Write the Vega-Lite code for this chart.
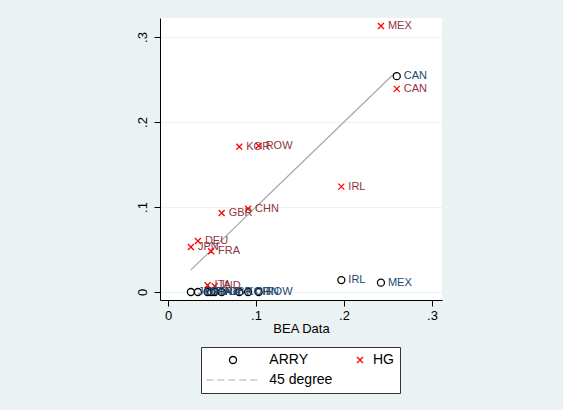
{
  "$schema": "https://vega.github.io/schema/vega-lite/v6.json",
  "width": 282,
  "height": 282,
  "autosize": {"type": "none"},
  "padding": {"left": 160, "top": 18, "right": 121, "bottom": 110},
  "background": "#EAF2F3",
  "config": {
    "view": {"fill": "white", "stroke": null},
    "font": "Liberation Sans"
  },
  "data": {
    "values": [
      {"country": "MEX", "series": "HG", "bea": 0.242, "value": 0.313},
      {"country": "CAN", "series": "HG", "bea": 0.260, "value": 0.239},
      {"country": "KOR", "series": "HG", "bea": 0.081, "value": 0.171},
      {"country": "ROW", "series": "HG", "bea": 0.103, "value": 0.172},
      {"country": "IRL", "series": "HG", "bea": 0.197, "value": 0.124},
      {"country": "CHN", "series": "HG", "bea": 0.091, "value": 0.098},
      {"country": "GBR", "series": "HG", "bea": 0.061, "value": 0.093},
      {"country": "DEU", "series": "HG", "bea": 0.034, "value": 0.060},
      {"country": "JPN", "series": "HG", "bea": 0.026, "value": 0.053},
      {"country": "FRA", "series": "HG", "bea": 0.049, "value": 0.048},
      {"country": "ITA", "series": "HG", "bea": 0.045, "value": 0.008},
      {"country": "IND", "series": "HG", "bea": 0.053, "value": 0.007},
      {"country": "CAN", "series": "ARRY", "bea": 0.260, "value": 0.254},
      {"country": "IRL", "series": "ARRY", "bea": 0.197, "value": 0.014},
      {"country": "MEX", "series": "ARRY", "bea": 0.242, "value": 0.011},
      {"country": "JPN", "series": "ARRY", "bea": 0.026, "value": 0.0},
      {"country": "DEU", "series": "ARRY", "bea": 0.034, "value": 0.0},
      {"country": "ITA", "series": "ARRY", "bea": 0.045, "value": 0.0},
      {"country": "FRA", "series": "ARRY", "bea": 0.049, "value": 0.0},
      {"country": "IND", "series": "ARRY", "bea": 0.053, "value": 0.0},
      {"country": "GBR", "series": "ARRY", "bea": 0.061, "value": 0.0},
      {"country": "KOR", "series": "ARRY", "bea": 0.081, "value": 0.0},
      {"country": "CHN", "series": "ARRY", "bea": 0.091, "value": 0.0},
      {"country": "ROW", "series": "ARRY", "bea": 0.103, "value": 0.0},
      {"country": "", "series": "45 degree", "bea": 0.026, "value": 0.026},
      {"country": "", "series": "45 degree", "bea": 0.258, "value": 0.258}
    ]
  },
  "layer": [
    {
      "transform": [{"filter": "datum.series === '45 degree'"}],
      "mark": {"type": "line", "color": "#a6a6a6", "strokeWidth": 1.2},
      "encoding": {
        "x": {
          "field": "bea", "type": "quantitative",
          "scale": {"domain": [-0.0091, 0.3114], "nice": false, "zero": false},
          "axis": {
            "values": [0, 0.1, 0.2, 0.3],
            "labelExpr": "datum.value === 0 ? '0' : substring(format(datum.value, '.1f'), 1)",
            "grid": false,
            "domainColor": "black",
            "tickColor": "black",
            "tickSize": 6,
            "labelFontSize": 13,
            "labelColor": "black",
            "labelPadding": 3,
            "title": "BEA Data",
            "titleFontSize": 13,
            "titleFontWeight": "normal",
            "titleColor": "black",
            "titlePadding": 0
          }
        },
        "y": {
          "field": "value", "type": "quantitative",
          "scale": {"domain": [-0.0094, 0.3224], "nice": false, "zero": false},
          "axis": {
            "values": [0, 0.1, 0.2, 0.3],
            "labelExpr": "datum.value === 0 ? '0' : substring(format(datum.value, '.1f'), 1)",
            "grid": true,
            "gridColor": "#EAF2F3",
            "gridWidth": 1,
            "domainColor": "black",
            "tickColor": "black",
            "tickSize": 6,
            "labelAngle": 270,
            "labelFontSize": 13,
            "labelColor": "black",
            "labelPadding": 5,
            "title": null
          }
        }
      }
    },
    {
      "transform": [{"filter": "datum.series !== '45 degree'"}],
      "mark": {"type": "point", "filled": false, "size": 49, "strokeWidth": 1.3, "opacity": 1},
      "encoding": {
        "x": {"field": "bea", "type": "quantitative"},
        "y": {"field": "value", "type": "quantitative"},
        "color": {
          "field": "series", "type": "nominal",
          "scale": {"domain": ["ARRY", "HG", "45 degree"], "range": ["black", "red", "#c8c8c8"]},
          "legend": {
            "title": null,
            "orient": "none",
            "legendX": 41,
            "legendY": 329,
            "direction": "horizontal",
            "columns": 2,
            "fillColor": "white",
            "strokeColor": "#333333",
            "padding": 6,
            "labelFontSize": 14,
            "labelColor": "black",
            "labelOffset": 6,
            "labelExpr": "datum.label === 'HG' ? datum.label : '\u200b\u00a0\u00a0\u00a0\u00a0\u00a0\u00a0' + datum.label",
            "columnPadding": 1,
            "rowPadding": 6,
            "symbolSize": 49,
            "symbolOffset": 19,
            "symbolStrokeWidth": 1.3,
            "symbolFillColor": "transparent",
            "symbolDash": [7, 4]
          }
        },
        "shape": {
          "field": "series", "type": "nominal",
          "scale": {"domain": ["ARRY", "HG", "45 degree"], "range": ["M1,0A1,1,0,0,1,0,1M0,1A1,1,0,0,1,-1,0M-1,0A1,1,0,0,1,0,-1M0,-1A1,1,0,0,1,1,0", "M0,0L0.85,0.85M0,0L-0.85,-0.85M0,0L0.85,-0.85M0,0L-0.85,0.85", "M-7.6,0L7.6,0"]}
        }
      }
    },
    {
      "transform": [{"filter": "datum.series === 'ARRY'"}],
      "mark": {"type": "text", "align": "left", "baseline": "middle", "dx": 7, "fontSize": 11, "color": "#1a476f"},
      "encoding": {
        "x": {"field": "bea", "type": "quantitative"},
        "y": {"field": "value", "type": "quantitative"},
        "text": {"field": "country"}
      }
    },
    {
      "transform": [{"filter": "datum.series === 'HG'"}],
      "mark": {"type": "text", "align": "left", "baseline": "middle", "dx": 7, "fontSize": 11, "color": "#90353b"},
      "encoding": {
        "x": {"field": "bea", "type": "quantitative"},
        "y": {"field": "value", "type": "quantitative"},
        "text": {"field": "country"}
      }
    }
  ]
}
